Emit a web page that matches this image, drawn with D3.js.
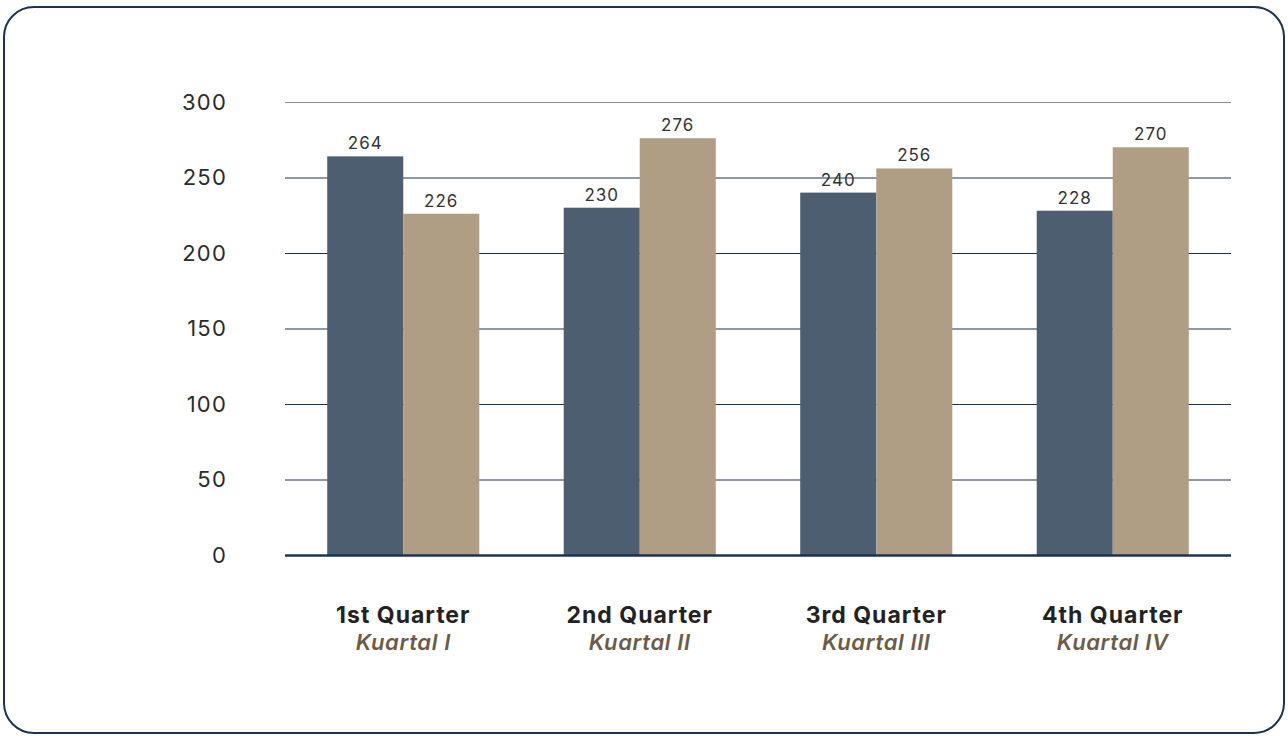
<!DOCTYPE html>
<html>
<head>
<meta charset="utf-8">
<script src="https://cdn.jsdelivr.net/npm/d3@7"></script>
<style>
  html, body { margin: 0; padding: 0; background: #fff; }
  svg { display: block; font-family: Inter, "Noto Sans", sans-serif; }
</style>
</head>
<body>
<div id="chart"></div>
<script>
const quarters = ['1st Quarter', '2nd Quarter', '3rd Quarter', '4th Quarter'];
const quartersId = ['Kuartal I', 'Kuartal II', 'Kuartal III', 'Kuartal IV'];
const seriesA = [264, 230, 240, 228];
const seriesB = [226, 276, 256, 270];
const yTicks = [0, 50, 100, 150, 200, 250, 300];

const width = 1288;
const height = 736;
const margin = { top: 102, right: 57, bottom: 181, left: 285 };
const colors = ['#4d5e70', '#b09e84'];

const svg = d3.select('#chart')
  .append('svg')
  .attr('width', width)
  .attr('height', height);

// Frame
svg.append('rect')
  .attr('x', 4)
  .attr('y', 7)
  .attr('width', width - 8)
  .attr('height', height - 10)
  .attr('rx', 30)
  .attr('fill', 'none')
  .attr('stroke', '#1c3350')
  .attr('stroke-width', 2);

const x = d3.scaleBand()
  .domain(quarters)
  .range([margin.left, width - margin.right])
  .paddingInner(0.357)
  .paddingOuter(0.1785);

const xSub = d3.scaleBand()
  .domain([0, 1])
  .range([0, x.bandwidth()]);

const y = d3.scaleLinear()
  .domain([0, 300])
  .range([height - margin.bottom, margin.top]);

// Gridlines
svg.append('g')
  .selectAll('line')
  .data(yTicks.filter(d => d > 0))
  .enter()
  .append('line')
  .attr('x1', margin.left)
  .attr('x2', width - margin.right)
  .attr('y1', d => y(d) + 0.5)
  .attr('y2', d => y(d) + 0.5)
  .attr('stroke', d => d === 300 ? '#7d8a9c' : '#1c3350')
  .attr('stroke-width', 1);

// Y tick labels
svg.append('g')
  .selectAll('text')
  .data(yTicks)
  .enter()
  .append('text')
  .attr('x', 227)
  .attr('y', d => y(d))
  .attr('dy', '0.35em')
  .attr('text-anchor', 'end')
  .attr('font-size', 22)
  .attr('letter-spacing', 1.2)
  .attr('fill', '#2b2b2b')
  .text(d => d);

// Bars
const groups = svg.append('g')
  .selectAll('g')
  .data(quarters)
  .enter()
  .append('g')
  .attr('transform', d => `translate(${x(d)},0)`);

groups.selectAll('rect')
  .data((d, i) => [seriesA[i], seriesB[i]])
  .enter()
  .append('rect')
  .attr('x', (d, j) => xSub(j))
  .attr('y', d => y(d))
  .attr('width', xSub.bandwidth())
  .attr('height', d => y(0) - y(d))
  .attr('fill', (d, j) => colors[j]);

groups.selectAll('text.value')
  .data((d, i) => [seriesA[i], seriesB[i]])
  .enter()
  .append('text')
  .attr('class', 'value')
  .attr('x', (d, j) => xSub(j) + xSub.bandwidth() / 2)
  .attr('y', d => y(d) - 7)
  .attr('text-anchor', 'middle')
  .attr('font-size', 17)
  .attr('letter-spacing', 1)
  .attr('fill', '#333')
  .text(d => d);

// Baseline
svg.append('line')
  .attr('x1', margin.left)
  .attr('x2', width - margin.right)
  .attr('y1', y(0) + 0.5)
  .attr('y2', y(0) + 0.5)
  .attr('stroke', '#1c3350')
  .attr('stroke-width', 2.5);

// Category labels
const labels = svg.append('g')
  .selectAll('g')
  .data(quarters)
  .enter()
  .append('g')
  .attr('transform', d => `translate(${x(d) + x.bandwidth() / 2},0)`);

labels.append('text')
  .attr('y', 623)
  .attr('text-anchor', 'middle')
  .attr('font-size', 23)
  .attr('font-weight', 700)
  .attr('letter-spacing', 1)
  .attr('fill', '#222')
  .text(d => d);

labels.append('text')
  .attr('y', 650)
  .attr('text-anchor', 'middle')
  .attr('font-size', 22)
  .attr('font-weight', 600)
  .attr('font-style', 'italic')
  .attr('letter-spacing', 0.6)
  .attr('fill', '#6b5c4a')
  .text((d, i) => quartersId[i]);
</script>
</body>
</html>
